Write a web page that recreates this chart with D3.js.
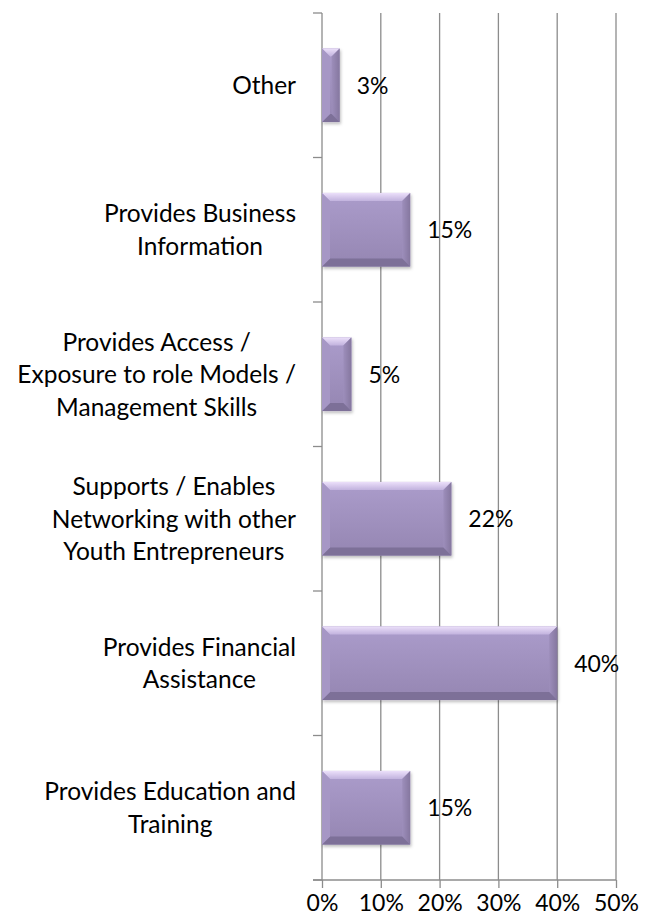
<!DOCTYPE html>
<html>
<head>
<meta charset="utf-8">
<script src="https://d3js.org/d3.v7.min.js"></script>
<style>
  body { margin: 0; background: #fff; }
  text { font-family: Lato, "Open Sans", sans-serif; fill: #000; }
</style>
</head>
<body>
<div id="chart"></div>
<script>
// set the dimensions and margins of the graph
const margin = {top: 13, right: 40, bottom: 44, left: 322},
width = 656 - margin.left - margin.right,
height = 924 - margin.top - margin.bottom;

// data, top to bottom
const categories = ["Other", "Business", "Access", "Networking", "Financial", "Education"];
const labelLines = [
  ["Other"],
  ["Provides Business", "Information"],
  ["Provides Access /", "Exposure to role Models /", "Management Skills"],
  ["Supports / Enables", "Networking with other", "Youth Entrepreneurs"],
  ["Provides Financial", "Assistance"],
  ["Provides Education and", "Training"]
];
const values = [3, 15, 5, 22, 40, 15];
const xTicks = [0, 10, 20, 30, 40, 50];

const svg = d3.select("#chart")
.append("svg")
.attr("width", width + margin.left + margin.right)
.attr("height", height + margin.top + margin.bottom)
.append("g")
.attr("transform", `translate(${margin.left},${margin.top})`);

const defs = svg.append("defs");

// face gradient
const grad = defs.append("linearGradient")
.attr("id", "face").attr("x1", 0).attr("y1", 0).attr("x2", 0).attr("y2", 1);
grad.append("stop").attr("offset", "0%").attr("stop-color", "#ab9ccb");
grad.append("stop").attr("offset", "100%").attr("stop-color", "#9586b2");

const gradTop = defs.append("linearGradient")
.attr("id", "bevelTop").attr("x1", 0).attr("y1", 0).attr("x2", 0).attr("y2", 1);
gradTop.append("stop").attr("offset", "0%").attr("stop-color", "#ece0fa");
gradTop.append("stop").attr("offset", "100%").attr("stop-color", "#c2b3de");

const gradRight = defs.append("linearGradient")
.attr("id", "bevelRight").attr("x1", 0).attr("y1", 0).attr("x2", 1).attr("y2", 0);
gradRight.append("stop").attr("offset", "0%").attr("stop-color", "#9d8ebb");
gradRight.append("stop").attr("offset", "100%").attr("stop-color", "#85779f");

const shadow = defs.append("filter").attr("id", "shadow")
.attr("x", "-10%").attr("y", "-10%").attr("width", "130%").attr("height", "140%");
shadow.append("feDropShadow")
.attr("dx", 1).attr("dy", 2).attr("stdDeviation", 1.5)
.attr("flood-color", "#000").attr("flood-opacity", 0.25);

// X scale
const x = d3.scaleLinear()
.domain([0, 50])
.range([0, width]);

// Y scale
const y = d3.scaleBand()
.domain(categories)
.range([0, height])
.paddingInner(0.49)
.paddingOuter(0.245);

const step = y.step();
const gridColor = "#8c8c8c";

// vertical gridlines
svg.append("g")
.selectAll("line")
.data(xTicks.slice(1))
.join("line")
.attr("x1", d => x(d)).attr("x2", d => x(d))
.attr("y1", 0).attr("y2", height)
.attr("stroke", gridColor).attr("stroke-width", 1.3);

// bottom axis
const xAxis = svg.append("g")
.attr("transform", `translate(0, ${height})`)
.call(d3.axisBottom(x).tickValues(xTicks).tickFormat(d => d + "%").tickSize(8).tickSizeOuter(0));
xAxis.select(".domain").remove();
xAxis.selectAll(".tick line").attr("stroke", gridColor).attr("stroke-width", 1.3);
xAxis.selectAll(".tick text")
.attr("y", 31)
.attr("dy", 0)
.style("font-size", "23px")
.style("font-family", "Lato, 'Open Sans', sans-serif");
xAxis.append("line")
.attr("x1", -9).attr("x2", width)
.attr("stroke", gridColor).attr("stroke-width", 1.3);

// left axis with ticks at category boundaries
const boundaries = d3.range(categories.length + 1).map(i => i * step);
svg.append("line")
.attr("x1", 0).attr("x2", 0).attr("y1", 0).attr("y2", height)
.attr("stroke", gridColor).attr("stroke-width", 1.3);
svg.append("g")
.selectAll("line")
.data(boundaries)
.join("line")
.attr("x1", -9).attr("x2", 0)
.attr("y1", d => d).attr("y2", d => d)
.attr("stroke", gridColor).attr("stroke-width", 1.3);

// bars with bevel
const bars = svg.append("g")
.selectAll("g")
.data(categories.map((c, i) => ({key: c, value: values[i]})))
.join("g")
.attr("filter", "url(#shadow)");

bars.each(function(d) {
  const g = d3.select(this);
  const x0 = x(0), x1 = x(d.value);
  const y0 = y(d.key), y1 = y(d.key) + y.bandwidth();
  const b = Math.min(8, (x1 - x0) / 2);
  g.append("rect")
  .attr("x", x0).attr("y", y0)
  .attr("width", x1 - x0).attr("height", y1 - y0)
  .attr("fill", "url(#face)");
  // top bevel
  g.append("polygon")
  .attr("points", [[x0, y0], [x1, y0], [x1 - b, y0 + b], [x0 + b, y0 + b]].join(" "))
  .attr("fill", "url(#bevelTop)");
  // right bevel
  g.append("polygon")
  .attr("points", [[x1, y0], [x1, y1], [x1 - b, y1 - b], [x1 - b, y0 + b]].join(" "))
  .attr("fill", "url(#bevelRight)");
  // bottom bevel
  g.append("polygon")
  .attr("points", [[x0, y1], [x1, y1], [x1 - b, y1 - b], [x0 + b, y1 - b]].join(" "))
  .attr("fill", "#7d7098");
  // left bevel
  g.append("polygon")
  .attr("points", [[x0, y0], [x0, y1], [x0 + b, y1 - b], [x0 + b, y0 + b]].join(" "))
  .attr("fill", "#a697c5");
});

// value labels
svg.append("g")
.selectAll("text")
.data(categories.map((c, i) => ({key: c, value: values[i]})))
.join("text")
.attr("x", d => x(d.value) + 17)
.attr("y", d => y(d.key) + y.bandwidth() / 2)
.attr("dy", "0.36em")
.style("font-size", "23px")
.text(d => d.value + "%");

// category labels, lines centred, block right-aligned
const lineH = 32.5;
const labelRight = -26;
categories.forEach((c, i) => {
  const lines = labelLines[i];
  const cy = y(c) + y.bandwidth() / 2;
  const g = svg.append("g");
  const texts = g.selectAll("text")
  .data(lines)
  .join("text")
  .attr("y", (d, j) => cy + (j - (lines.length - 1) / 2) * lineH)
  .attr("dy", "0.36em")
  .attr("text-anchor", "middle")
  .style("font-size", "24.5px")
  .text(d => d);
  let maxW = 0;
  texts.each(function() { maxW = Math.max(maxW, this.getComputedTextLength()); });
  texts.attr("x", labelRight - maxW / 2);
});
</script>
</body>
</html>
